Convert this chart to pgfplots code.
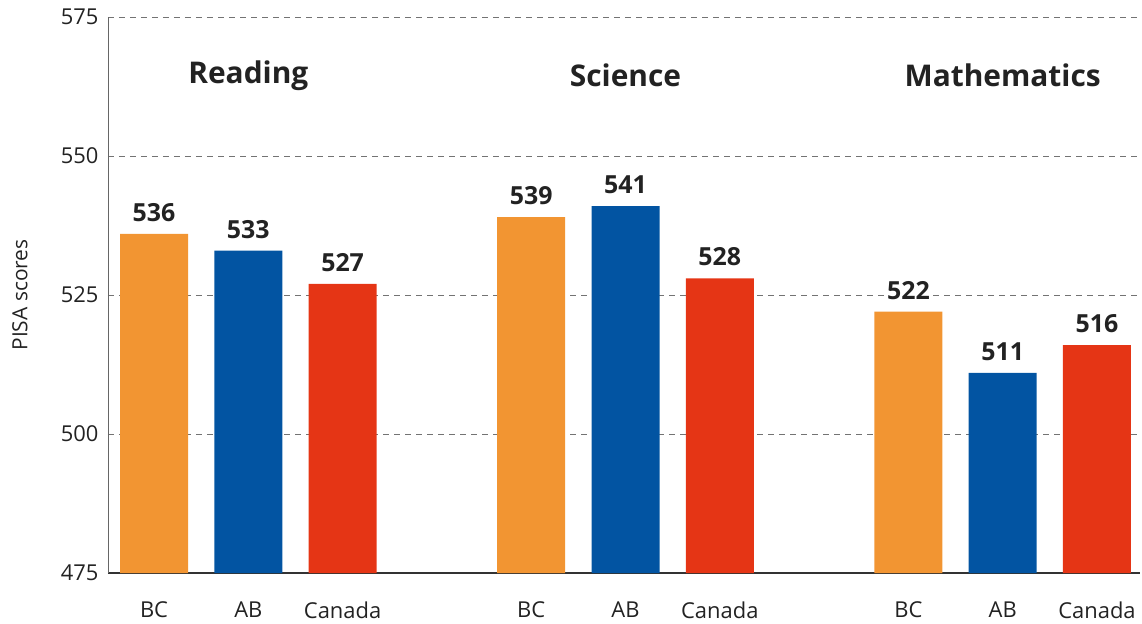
\documentclass[border=0pt]{standalone}
\usepackage{pgfplots}
\pgfplotsset{compat=1.18}
\usepackage{fontspec}
\setmainfont{Open Sans}
\definecolor{cOr}{HTML}{F29532}
\definecolor{cBl}{HTML}{0254A2}
\definecolor{cRd}{HTML}{E53515}
\definecolor{txt}{HTML}{222222}
\begin{document}
\begin{tikzpicture}[x=1bp,y=1bp]
\begin{axis}[
  at={(0,0)}, anchor=south west,
  scale only axis, width=1032bp, height=556bp,
  xmin=-0.488, xmax=10.456, ymin=475, ymax=575,
  axis lines=left,
  x axis line style={-, color=black!80, line width=1.2pt},
  y axis line style={-, color=black!60, line width=1pt},
  xtick={0,1,2,4,5,6,8,9,10},
  xticklabels={BC,AB,Canada,BC,AB,Canada,BC,AB,Canada},
  ytick={475,500,525,550,575},
  major tick length=0pt,
  ymajorgrids,
  major grid style={dashed, dash pattern=on 6bp off 5bp, color=black!55, line width=0.8pt},
  tick label style={font=\fontsize{22}{26}\selectfont, text=txt},
  /pgf/number format/assume math mode=true,
  yticklabel style={xshift=-6bp},
  xticklabel style={yshift=-25bp},
  ylabel={PISA scores},
  ylabel style={font=\fontsize{21}{25}\selectfont, text=txt, at={(axis description cs:-0.0853,0.5)}, anchor=center},
  ybar, bar width=68bp, bar shift=0pt,
  nodes near coords,
  nodes near coords style={font=\bfseries\fontsize{25}{30}\selectfont, text=txt, fill=white, inner sep=2bp, yshift=10bp},
  clip=false,
]
\addplot[fill=cOr, draw=none] coordinates {(0,536) (4,539) (8,522)};
\addplot[fill=cBl, draw=none] coordinates {(1,533) (5,541) (9,511)};
\addplot[fill=cRd, draw=none] coordinates {(2,527) (6,528) (10,516)};
\node[font=\bfseries\fontsize{30}{36}\selectfont, text=txt] at (axis cs:1,564.5) {Reading};
\node[font=\bfseries\fontsize{30}{36}\selectfont, text=txt] at (axis cs:5,564.5) {Science};
\node[font=\bfseries\fontsize{30}{36}\selectfont, text=txt] at (axis cs:9,564.5) {Mathematics};
\end{axis}
\pgfresetboundingbox
\path (-108bp,-51bp) rectangle (1034bp,573bp);
\end{tikzpicture}
\end{document}
